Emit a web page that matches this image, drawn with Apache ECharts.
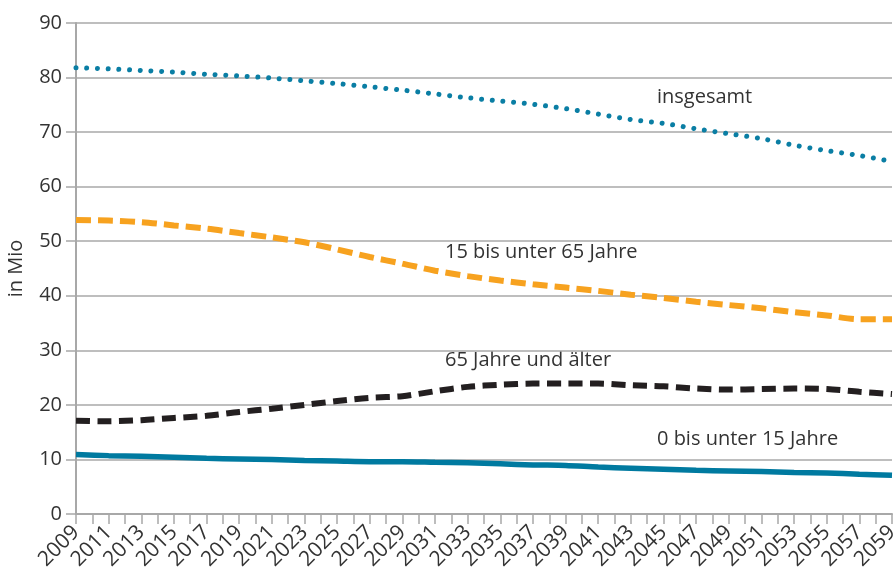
<!DOCTYPE html>
<html>
<head>
<meta charset="utf-8">
<script src="https://cdn.jsdelivr.net/npm/echarts@6/dist/echarts.min.js"></script>
<style>
  html, body { margin: 0; padding: 0; background: #fff; }
  #chart { width: 893px; height: 572px; }
</style>
</head>
<body>
<div id="chart"></div>
<script>
const years = [2009, 2011, 2013, 2015, 2017, 2019, 2021, 2023, 2025, 2027, 2029, 2031, 2033,
  2035, 2037, 2039, 2041, 2043, 2045, 2047, 2049, 2051, 2053, 2055, 2057, 2059]

// Bevölkerung in Mio
const insgesamt = [81.8, 81.6, 81.3, 81.0, 80.6, 80.3, 79.9, 79.4, 78.9, 78.3, 77.7, 77.0, 76.3,
  75.7, 75.1, 74.3, 73.3, 72.3, 71.6, 70.6, 69.7, 68.8, 67.6, 66.6, 65.7, 64.6]
const erwerbsalter = [53.9, 53.8, 53.5, 52.9, 52.3, 51.5, 50.7, 49.8, 48.5, 47.1, 45.9, 44.6, 43.6,
  42.8, 42.1, 41.5, 40.9, 40.2, 39.6, 38.9, 38.3, 37.7, 37.0, 36.4, 35.7, 35.7]
const aeltere = [17.1, 17.0, 17.2, 17.6, 18.0, 18.7, 19.3, 20.0, 20.7, 21.3, 21.6, 22.5, 23.3,
  23.7, 23.9, 23.9, 23.9, 23.6, 23.4, 23.0, 22.8, 22.9, 23.0, 22.9, 22.4, 22.0]
const kinder = [10.9, 10.7, 10.6, 10.4, 10.2, 10.1, 10.0, 9.8, 9.7, 9.6, 9.6, 9.5, 9.4,
  9.2, 9.0, 8.9, 8.6, 8.4, 8.2, 8.0, 7.9, 7.8, 7.6, 7.5, 7.3, 7.1]

const pairs = arr => years.map((y, i) => [y, arr[i]])

const chart = echarts.init(document.getElementById('chart'))

const font = 'Open Sans'
const axisGrey = '#a8a8a8'
const textColor = '#333'

const labelText = (text, left, top) => ({
  type: 'text',
  left: left,
  top: top,
  style: { text: text, fill: textColor, font: '20px "Open Sans"' }
})

const option = {
  animation: false,
  grid: { left: 76, right: 1, top: 23, bottom: 58, outerBoundsMode: 'none' },
  xAxis: {
    type: 'value',
    min: 2009,
    max: 2059,
    interval: 1,
    axisLine: { show: true, onZero: false, lineStyle: { color: axisGrey, width: 2 } },
    axisTick: { show: true, length: 10, lineStyle: { color: axisGrey, width: 1.5 } },
    splitLine: { show: false },
    axisLabel: {
      rotate: 45,
      margin: 15,
      color: textColor,
      fontSize: 21,
      fontFamily: font,
      hideOverlap: false,
      showMinLabel: true,
      showMaxLabel: true,
      formatter: v => ((v - 2009) % 2 === 0 ? '{y|' + v + '}' : ''),
      rich: { y: { fontSize: 21, fontFamily: font, color: textColor } }
    }
  },
  yAxis: {
    type: 'value',
    min: 0,
    max: 90,
    interval: 10,
    name: 'in Mio',
    nameLocation: 'middle',
    nameGap: 50,
    nameTextStyle: { color: textColor, fontSize: 20, fontFamily: font },
    axisLine: { show: true, lineStyle: { color: axisGrey, width: 2 } },
    axisTick: { show: true, length: 10, lineStyle: { color: axisGrey, width: 1.5 } },
    splitLine: { lineStyle: { color: axisGrey, width: 1.5 } },
    axisLabel: { color: textColor, fontSize: 20, fontFamily: font, margin: 14 }
  },
  series: [
    {
      name: 'insgesamt',
      type: 'line',
      data: pairs(insgesamt),
      smooth: 0.3,
      showSymbol: false,
      lineStyle: { color: '#0a7ea4', width: 5, type: [0.01, 10.7], cap: 'round' }
    },
    {
      name: '15 bis unter 65 Jahre',
      type: 'line',
      data: pairs(erwerbsalter),
      smooth: 0.3,
      showSymbol: false,
      lineStyle: { color: '#f7a21f', width: 6, type: [15, 7] }
    },
    {
      name: '65 Jahre und älter',
      type: 'line',
      data: pairs(aeltere),
      smooth: 0.3,
      showSymbol: false,
      lineStyle: { color: '#231f20', width: 6, type: [14, 7.5] }
    },
    {
      name: '0 bis unter 15 Jahre',
      type: 'line',
      data: pairs(kinder),
      smooth: 0.3,
      showSymbol: false,
      lineStyle: { color: '#007aa0', width: 5.5 }
    }
  ],
  graphic: [
    labelText('insgesamt', 657, 87),
    labelText('15 bis unter 65 Jahre', 445, 242),
    labelText('65 Jahre und älter', 445, 350),
    labelText('0 bis unter 15 Jahre', 657, 429)
  ]
}

chart.setOption(option)
</script>
</body>
</html>
